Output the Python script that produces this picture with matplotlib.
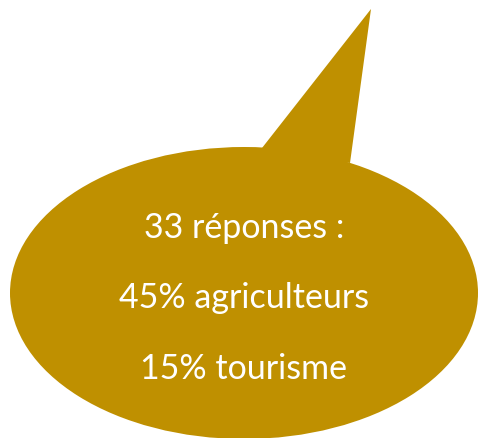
import matplotlib.pyplot as plt
from matplotlib.patches import Ellipse, Polygon

# contenu de la bulle
nb_reponses = 33
categories = ['agriculteurs', 'tourisme']
pourcentages = [45, 15]

fill_color = '#BF9000'

fig = plt.figure(figsize=(4.78, 4.39), dpi=100)
ax = fig.add_axes([0, 0, 1, 1])
ax.set_xlim(0, 478)
ax.set_ylim(439, 0)
ax.axis('off')

# bulle : ellipse + pointe
ax.add_patch(Ellipse((244, 294), 468, 292, facecolor=fill_color, edgecolor='none'))
ax.add_patch(Polygon([(262, 149), (371, 10), (350, 164)], closed=True,
                     facecolor=fill_color, edgecolor='none'))

lines = [str(nb_reponses) + ' réponses :']
for c, p in zip(categories, pourcentages):
    lines.append(str(p) + '% ' + c)

baselines = [238, 308, 379]
for txt, y in zip(lines, baselines):
    ax.text(244, y, txt, color='white', fontsize=24.5, family=['Lato', 'DejaVu Sans'],
            ha='center', va='baseline')

plt.savefig('out.png', dpi=100)
